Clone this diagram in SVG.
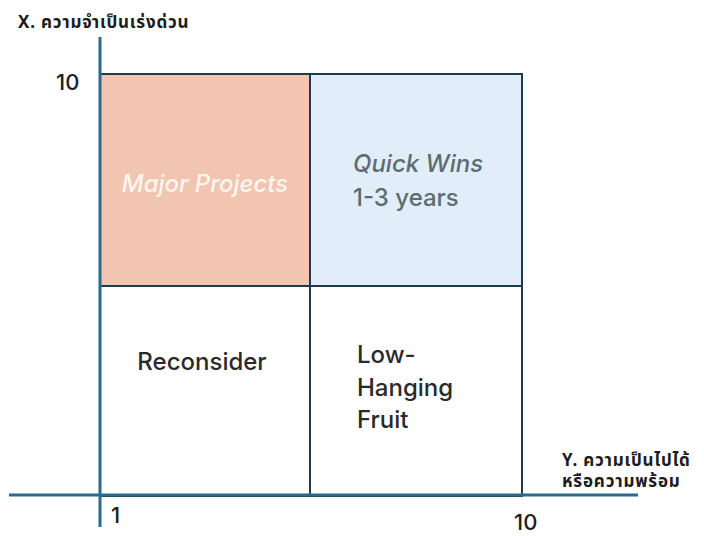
<svg xmlns="http://www.w3.org/2000/svg" width="704" height="536" viewBox="0 0 704 536">
<style>
.lbl{font-family:Inter,"Liberation Sans",sans-serif;font-size:24px;font-weight:500;fill:#2a2a2a}
.num{font-family:Inter,"Liberation Sans",sans-serif;font-size:22px;font-weight:500;fill:#1e1e1e}
.th{font-family:"Noto Sans","Noto Sans Thai","DejaVu Sans",sans-serif;font-size:17px;font-weight:bold;letter-spacing:0.8px;fill:#1c1c1c}
.grid{fill:none;stroke:#1f3a4c;stroke-width:2}
.axis{stroke:#2a6a8e;stroke-width:3}
</style>
<rect width="704" height="536" fill="#ffffff"/>
<g id="q-major">
<rect x="100" y="74" width="210" height="212" fill="#f1c5b0"/>
<text class="lbl" x="205" y="192" text-anchor="middle" font-style="italic" style="fill:#fdf5f0">Major Projects</text>
</g>
<g id="q-quick">
<rect x="310" y="74" width="212" height="212" fill="#e1eef9"/>
<text class="lbl" x="353" y="172" font-style="italic" style="fill:#5f6b72">Quick Wins</text>
<text class="lbl" x="353" y="206" style="fill:#5f6b72">1-3 years</text>
</g>
<g id="q-reconsider">
<text class="lbl" x="202" y="370" text-anchor="middle">Reconsider</text>
</g>
<g id="q-lowhanging">
<text class="lbl" x="357" y="363">Low-</text>
<text class="lbl" x="357" y="396">Hanging</text>
<text class="lbl" x="357" y="428">Fruit</text>
</g>
<g id="connectors">
<rect class="grid" x="100" y="74" width="422" height="422"/>
<line class="grid" x1="310" y1="74" x2="310" y2="496"/>
<line class="grid" x1="100" y1="286" x2="522" y2="286"/>
<line class="axis" x1="9" y1="495" x2="638" y2="495"/>
<line class="axis" x1="100" y1="37" x2="100" y2="527"/>
</g>
<g id="axis-labels">
<text class="th" x="18" y="28">X. ความจำเป็นเร่งด่วน</text>
<text class="th" x="562" y="466">Y. ความเป็นไปได้</text>
<text class="th" x="562" y="487">หรือความพร้อม</text>
<text class="num" x="56" y="90">10</text>
<text class="num" x="111" y="523">1</text>
<text class="num" x="514" y="530">10</text>
</g>
</svg>
